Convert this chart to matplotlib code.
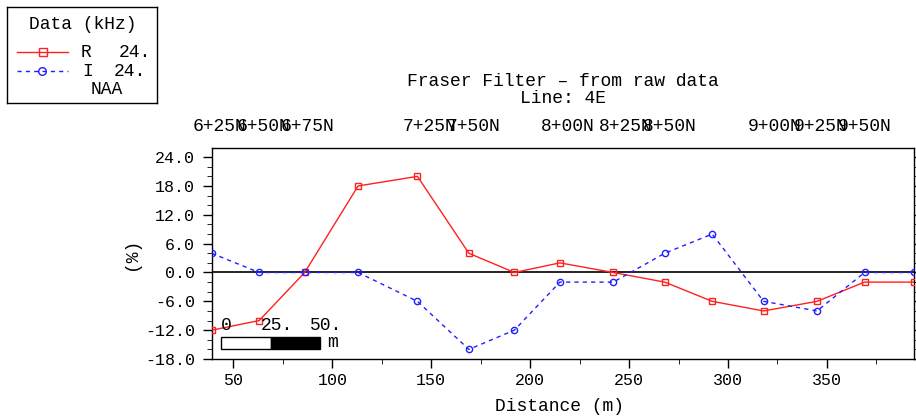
import matplotlib.pyplot as plt
from matplotlib.lines import Line2D
from matplotlib.patches import Rectangle
import matplotlib.transforms as mtransforms

plt.rcParams['font.family'] = 'Liberation Mono'
plt.rcParams['font.size'] = 13

# data
dist = [39, 63, 86, 113, 143, 169, 192, 215, 242, 268, 292, 318, 345, 369, 394]
r_vals = [-12, -10, 0, 18, 20, 4, 0, 2, 0, -2, -6, -8, -6, -2, -2]
i_vals = [4, 0, 0, 0, -6, -16, -12, -2, -2, 4, 8, -6, -8, 0, 0]

stations = ['6+25N', '6+50N', '6+75N', '7+25N', '7+50N', '8+00N',
            '8+25N', '8+50N', '9+00N', '9+25N', '9+50N']
station_x = [43, 65, 87.5, 149, 171.3, 218.8, 248.2, 270.3, 323.8, 346.9, 369.3]

yticks = [-18, -12, -6, 0, 6, 12, 18, 24]
ytick_labels = ['-18.0', '-12.0', '-6.0', '0.0', '6.0', '12.0', '18.0', '24.0']
xticks = [50, 100, 150, 200, 250, 300, 350]

fig = plt.figure(figsize=(9.16, 4.2), dpi=100)
ax = fig.add_axes([0.2311, 0.1452, 0.7667, 0.5024])

ax.axhline(0, color='black', lw=1.2, zorder=1)
ax.plot(dist, r_vals, color='#ff2020', lw=1.0, marker='s', ms=4.5,
        mfc='none', mec='#ff2020', mew=1.0, zorder=3)
ax.plot(dist, i_vals, color='#2020ff', lw=1.0, ls=(0, (3, 3)), marker='o',
        ms=4.5, mfc='none', mec='#2020ff', mew=1.0, zorder=3)

ax.set_xlim(39, 394)
ax.set_ylim(-18, 25.9)
ax.set_yticks(yticks)
ax.set_yticklabels(ytick_labels)
ax.set_yticks(range(-18, 26, 2), minor=True)
ax.set_xticks(xticks)
ax.set_xticks(range(50, 394, 25), minor=True)
ax.tick_params(which='major', direction='out', length=6.5, width=1, labelsize=12)
ax.tick_params(axis='y', which='major', pad=5.5, right=True)
ax.tick_params(axis='y', which='minor', direction='out', length=3.5, right=True)
ax.tick_params(axis='x', which='minor', direction='out', length=3.5)
ax.tick_params(axis='x', which='major', pad=3.5)
for s in ax.spines.values():
    s.set_linewidth(1.0)

ax.set_xlabel('Distance (m)')
ax.xaxis.set_label_coords(0.495, -0.185)
ax.set_ylabel('(%)')
ax.yaxis.set_label_coords(-0.102, 0.5)

ax.set_title('Fraser Filter – from raw data\nLine: 4E', pad=32.5, linespacing=1.0,
             fontsize=13)

trans = mtransforms.blended_transform_factory(ax.transData, ax.transAxes)
for lab, sx in zip(stations, station_x):
    ax.text(sx, 1.104, lab, transform=trans, ha='center', va='center', fontsize=13)

# scale bar
ax.add_patch(Rectangle((43.8, -15.9), 25, 2.4, facecolor='white',
                       edgecolor='black', lw=1.0, zorder=4))
ax.add_patch(Rectangle((68.8, -15.9), 25, 2.4, facecolor='black',
                       edgecolor='black', lw=1.0, zorder=4))
ax.text(43.8, -12.8, '0', ha='left', va='bottom', fontsize=13, zorder=5)
ax.text(63.8, -12.8, '25.', ha='left', va='bottom', fontsize=13, zorder=5)
ax.text(88.6, -12.8, '50.', ha='left', va='bottom', fontsize=13, zorder=5)
ax.text(97.5, -14.6, 'm', ha='left', va='center', fontsize=13, zorder=5)

# legend box
lg = fig.add_axes([7.3 / 916, 1 - 103.3 / 420, 149.4 / 916, 96 / 420])
lg.set_xlim(0, 149.4)
lg.set_ylim(96, 0)
lg.set_xticks([])
lg.set_yticks([])
for s in lg.spines.values():
    s.set_linewidth(1.0)
lg.text(75, 17.5, 'Data (kHz)', ha='center', va='center', fontsize=13)
lg.add_line(Line2D([10, 61], [45, 45], color='#ff2020', lw=1.0))
lg.add_line(Line2D([36], [45], color='#ff2020', marker='s', ms=6,
                   mfc='none', mew=1.0))
lg.add_line(Line2D([10, 61], [64, 64], color='#2020ff', lw=1.0, ls=(0, (3, 3))))
lg.add_line(Line2D([35], [64], color='#2020ff', marker='o', ms=5.5,
                   mfc='none', mew=1.0))
lg.text(73, 45, 'R', ha='left', va='center', fontsize=13)
lg.text(111, 45, '24.', ha='left', va='center', fontsize=13)
lg.text(75, 64, 'I', ha='left', va='center', fontsize=13)
lg.text(106, 64, '24.', ha='left', va='center', fontsize=13)
lg.text(83, 82, 'NAA', ha='left', va='center', fontsize=13)

fig.savefig('out.png', dpi=100)
